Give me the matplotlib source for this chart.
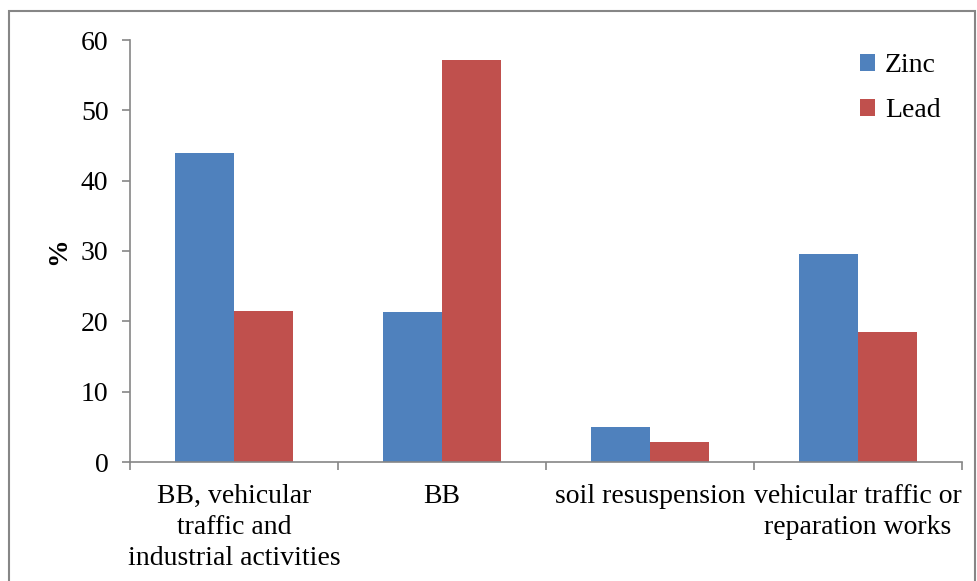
import numpy as np
import matplotlib
matplotlib.use("Agg")
import matplotlib.pyplot as plt
from matplotlib.patches import Rectangle

# source contribution (%) for each metal
categories = ["BB, vehicular\ntraffic and\nindustrial activities", "BB",
              "soil resuspension", "vehicular traffic or\nreparation works"]
zinc = [43.9, 21.3, 5.0, 29.6]
lead = [21.4, 57.1, 2.8, 18.5]
yticks = [0, 10, 20, 30, 40, 50, 60]

plt.rcParams['font.family'] = ['Liberation Serif', 'DejaVu Serif']
grey = '#868686'
fs = 20

fig = plt.figure(figsize=(9.78, 5.81), dpi=100)
ax = fig.add_axes([130/978, 1-462/581, (962-130)/978, (462-40)/581])

x = np.arange(len(categories))
w = 1/3.5
ax.bar(x - w/2, zinc, w, color='#4F81BD', label='Zinc')
ax.bar(x + w/2, lead, w, color='#C0504D', label='Lead')

ax.set_xlim(-0.5, len(categories) - 0.5)
ax.set_ylim(0, 60)
ax.set_yticks(yticks)
ax.set_xticks(x)
ax.set_xticklabels(categories, fontsize=fs, linespacing=1.3)
ax.set_xticks(np.arange(len(categories) + 1) - 0.5, minor=True)
ax.tick_params(axis='x', which='major', length=0, pad=16)
ax.tick_params(axis='x', which='minor', length=6, color=grey, width=1.2)
ax.tick_params(axis='y', labelsize=fs, length=5.5, color=grey, width=1.2, pad=10)

for s in ['top', 'right']:
    ax.spines[s].set_visible(False)
for s in ['left', 'bottom']:
    ax.spines[s].set_color(grey)
    ax.spines[s].set_linewidth(1.2)

ax.set_ylabel('%', fontsize=fs, fontweight='bold', labelpad=7)

ax.legend(loc='upper left', bbox_to_anchor=(849/978, 1-42/581),
          bbox_transform=fig.transFigure, frameon=False, fontsize=fs,
          handlelength=0.55, handleheight=0.55, handletextpad=0.35,
          labelspacing=0.72, borderaxespad=0)

# outer chart frame, bottom edge runs off the image
fig.patches.append(Rectangle((9/978, -0.05), (975-9)/978, 1.05 - 11/581,
                             transform=fig.transFigure, fill=False,
                             edgecolor=grey, linewidth=1.5))

fig.savefig('out.png', dpi=100)
